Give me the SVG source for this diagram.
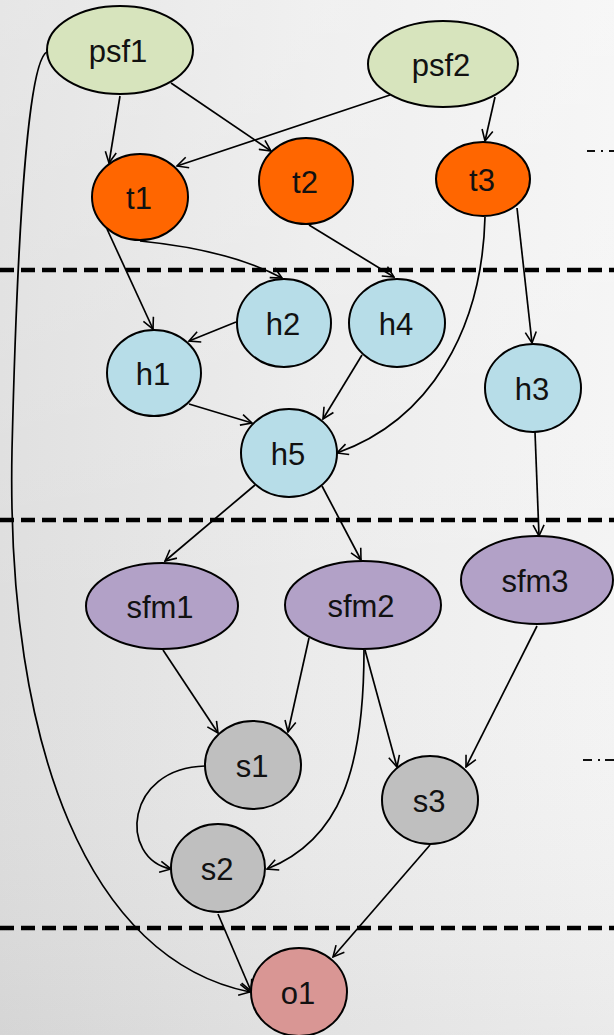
<svg xmlns="http://www.w3.org/2000/svg" width="614" height="1035" viewBox="0 0 614 1035">
  <defs>
    <linearGradient id="bgH" x1="0" y1="0" x2="1" y2="0">
      <stop offset="0" stop-color="#dedede"/>
      <stop offset="0.5" stop-color="#ebebeb"/>
      <stop offset="1" stop-color="#f4f4f4"/>
    </linearGradient>
    <linearGradient id="bgV" x1="0" y1="0" x2="0" y2="1">
      <stop offset="0" stop-color="#ffffff" stop-opacity="0.25"/>
      <stop offset="0.6" stop-color="#ffffff" stop-opacity="0"/>
      <stop offset="1" stop-color="#000000" stop-opacity="0.04"/>
    </linearGradient>
    <marker id="arrow" viewBox="0 0 13 13" refX="12" refY="6.5" markerWidth="13" markerHeight="13" markerUnits="userSpaceOnUse" orient="auto">
      <path d="M1,1 L12,6.5 L1,12" fill="none" stroke="#000" stroke-width="1.6"/>
    </marker>
    <style>
      .node { stroke: #000; stroke-width: 2; }
      .psf { fill: #d7e4bd; }
      .t { fill: #ff6600; }
      .h { fill: #b7dde8; }
      .sfm { fill: #b2a1c7; }
      .s { fill: #bfbfbf; }
      .o { fill: #d99694; }
      .label { font-family: "Liberation Sans", Arial, sans-serif; font-size: 31px; fill: #111; text-anchor: middle; }
      .edge { fill: none; stroke: #000; stroke-width: 1.7; marker-end: url(#arrow); }
      .tier { stroke: #000; stroke-width: 4.5; stroke-dasharray: 14 7; fill: none; }
      .mark { stroke: #111; stroke-width: 2; fill: none; }
    </style>
  </defs>

  <!-- background -->
  <rect x="0" y="0" width="614" height="1035" fill="url(#bgH)"/>
  <rect x="0" y="0" width="614" height="1035" fill="url(#bgV)"/>

  <!-- tier separators -->
  <g id="separators">
    <line class="tier" x1="0" y1="270" x2="614" y2="270"/>
    <line class="tier" x1="0" y1="520" x2="614" y2="520"/>
    <line class="tier" x1="0" y1="928" x2="614" y2="928"/>
    <path class="mark" d="M587,151 H595 M601,151 H603 M609,151 H614"/>
    <path class="mark" d="M583,760 H592 M598,760 H600 M605,760 H614"/>
  </g>

  <!-- connectors -->
  <g id="edges">
    <line class="edge" x1="120" y1="96" x2="109" y2="163"/>
    <line class="edge" x1="171" y1="83" x2="271" y2="151"/>
    <line class="edge" x1="390" y1="95" x2="177" y2="166"/>
    <line class="edge" x1="495" y1="97" x2="485" y2="141"/>
    <line class="edge" x1="107" y1="229" x2="153" y2="329"/>
    <path class="edge" d="M140,241 Q230,250 282,278"/>
    <line class="edge" x1="309" y1="225" x2="394" y2="277"/>
    <path class="edge" d="M485,217 C482,330 430,420 337,453"/>
    <line class="edge" x1="517" y1="208" x2="532" y2="343"/>
    <line class="edge" x1="236" y1="322" x2="189" y2="341"/>
    <line class="edge" x1="362" y1="355" x2="323" y2="419"/>
    <line class="edge" x1="189" y1="404" x2="252" y2="423"/>
    <line class="edge" x1="255" y1="485" x2="165" y2="561"/>
    <line class="edge" x1="322" y1="486" x2="361" y2="560"/>
    <line class="edge" x1="535" y1="432" x2="539" y2="536"/>
    <line class="edge" x1="163" y1="650" x2="218" y2="733"/>
    <line class="edge" x1="309" y1="638" x2="288" y2="732"/>
    <line class="edge" x1="365" y1="650" x2="397" y2="767"/>
    <path class="edge" d="M364,650 C364,770 340,840 267,869"/>
    <line class="edge" x1="537" y1="626" x2="466" y2="767"/>
    <path class="edge" d="M205,766 C125,768 118,858 171,869"/>
    <line class="edge" x1="218" y1="914" x2="251" y2="991"/>
    <line class="edge" x1="430" y1="845" x2="333" y2="957"/>
    <path class="edge" d="M47,52 C30,60 18,200 12,450 C6,750 90,960 250,992"/>
  </g>

  <!-- nodes -->
  <g id="psf1"><ellipse class="node psf" cx="120" cy="50" rx="73" ry="44"/><text class="label" x="118" y="62">psf1</text></g>
  <g id="psf2"><ellipse class="node psf" cx="443" cy="64" rx="75" ry="43"/><text class="label" x="441" y="76">psf2</text></g>
  <g id="t1"><ellipse class="node t" cx="140" cy="197" rx="48" ry="43"/><text class="label" x="139" y="209">t1</text></g>
  <g id="t2"><ellipse class="node t" cx="306" cy="181" rx="47" ry="43"/><text class="label" x="305" y="193">t2</text></g>
  <g id="t3"><ellipse class="node t" cx="483" cy="179" rx="47" ry="37"/><text class="label" x="482" y="191">t3</text></g>
  <g id="h1"><ellipse class="node h" cx="154" cy="373" rx="47" ry="43"/><text class="label" x="153" y="385">h1</text></g>
  <g id="h2"><ellipse class="node h" cx="284" cy="323" rx="47" ry="44"/><text class="label" x="283" y="335">h2</text></g>
  <g id="h4"><ellipse class="node h" cx="397" cy="323" rx="48" ry="44"/><text class="label" x="396" y="335">h4</text></g>
  <g id="h5"><ellipse class="node h" cx="289" cy="453" rx="48" ry="44"/><text class="label" x="288" y="465">h5</text></g>
  <g id="h3"><ellipse class="node h" cx="533" cy="388" rx="48" ry="44"/><text class="label" x="532" y="400">h3</text></g>
  <g id="sfm1"><ellipse class="node sfm" cx="162" cy="606" rx="76" ry="43"/><text class="label" x="160" y="618">sfm1</text></g>
  <g id="sfm2"><ellipse class="node sfm" cx="363" cy="605" rx="78" ry="44"/><text class="label" x="361" y="617">sfm2</text></g>
  <g id="sfm3"><ellipse class="node sfm" cx="537" cy="580" rx="76" ry="44"/><text class="label" x="535" y="592">sfm3</text></g>
  <g id="s1"><ellipse class="node s" cx="253" cy="765" rx="48" ry="44"/><text class="label" x="252" y="777">s1</text></g>
  <g id="s2"><ellipse class="node s" cx="218" cy="868" rx="47" ry="44"/><text class="label" x="217" y="880">s2</text></g>
  <g id="s3"><ellipse class="node s" cx="430" cy="800" rx="48" ry="44"/><text class="label" x="429" y="812">s3</text></g>
  <g id="o1"><ellipse class="node o" cx="299" cy="992" rx="48" ry="44"/><text class="label" x="298" y="1004">o1</text></g>
</svg>
